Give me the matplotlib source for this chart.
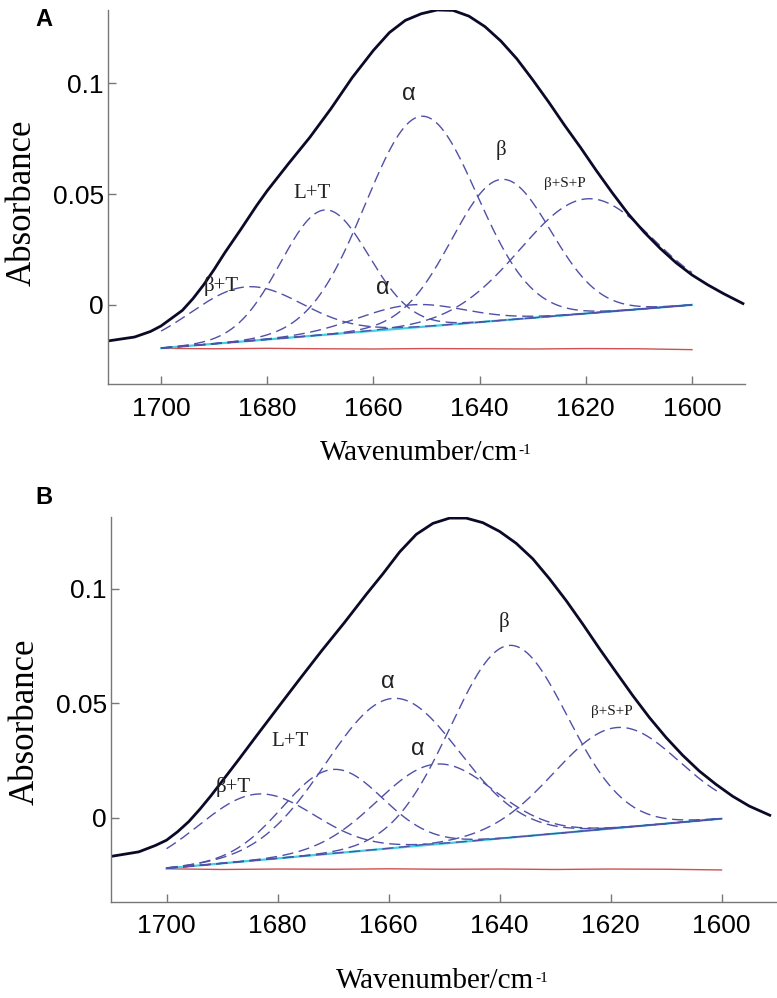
import numpy as np
import matplotlib.pyplot as plt
from matplotlib import transforms

# ---- panel A data ----
a_env_x = [1710.1, 1705, 1702, 1700, 1698, 1696, 1694, 1692, 1690, 1688, 1685, 1682, 1680,
           1676, 1672, 1668, 1664, 1660, 1657, 1654, 1651, 1648, 1645, 1642, 1639, 1636,
           1633, 1630, 1627, 1624, 1621, 1618, 1615, 1612, 1609, 1606, 1603, 1600, 1597,
           1594, 1590.4]
a_env_y = [-0.0163, -0.0145, -0.0120, -0.0095, -0.0060, -0.0025, 0.0028, 0.0090, 0.0160,
           0.0235, 0.0340, 0.0448, 0.0515, 0.0637, 0.0755, 0.0885, 0.1025, 0.1148, 0.1228,
           0.1283, 0.1313, 0.1330, 0.1328, 0.1302, 0.1255, 0.1190, 0.1110, 0.1015, 0.0915,
           0.0810, 0.0710, 0.0605, 0.0505, 0.0410, 0.0328, 0.0255, 0.0190, 0.0135, 0.0090,
           0.0050, 0.0006]
# fitted bands: centre, height above baseline, width (sigma)
a_band_names = ['β+T', 'L+T', 'α', 'α', 'β', 'β+S+P']
a_band_center = [1684.0, 1669.2, 1651.0, 1653.0, 1635.9, 1619.9]
a_band_height = [0.0245, 0.0563, 0.0950, 0.0103, 0.0636, 0.0517]
a_band_sigma = [10.5, 8.3, 10.5, 10.0, 9.3, 12.5]
a_base = [-0.0195, 0.0]          # baseline at 1700 and 1600
a_resid_x = [1700, 1690, 1680, 1670, 1660, 1650, 1640, 1630, 1620, 1610, 1600]
a_resid_y = [-0.0196, -0.0198, -0.0196, -0.0198, -0.0199, -0.0197, -0.0198, -0.0199, -0.0197, -0.0198, -0.0202]
a_label_x = [1688.7, 1671.5, 1653.3, 1658.2, 1635.9, 1624.0]
a_label_y = [0.0086, 0.0504, 0.0953, 0.0078, 0.0697, 0.0549]

# ---- panel B data ----
b_env_x = [1709.8, 1705, 1702, 1700, 1698, 1696, 1694, 1692, 1690, 1687, 1684, 1680, 1676,
           1672, 1668, 1664, 1661, 1658, 1655, 1652, 1649, 1646, 1643, 1640, 1637, 1634,
           1631, 1628, 1625, 1622, 1619, 1616, 1613, 1610, 1607, 1604, 1601, 1598, 1595,
           1591.3]
b_env_y = [-0.0169, -0.0150, -0.0122, -0.0099, -0.0062, -0.0018, 0.0036, 0.0095, 0.0158,
           0.0253, 0.0350, 0.0478, 0.0605, 0.0730, 0.0850, 0.0975, 0.1065, 0.1160, 0.1237,
           0.1285, 0.1308, 0.1308, 0.1288, 0.1250, 0.1198, 0.1130, 0.1043, 0.0948, 0.0845,
           0.0738, 0.0635, 0.0533, 0.0437, 0.0350, 0.0272, 0.0203, 0.0145, 0.0093, 0.0050,
           0.0010]
b_band_names = ['β+T', 'L+T', 'α', 'α', 'β', 'β+S+P']
b_band_center = [1683.8, 1670.1, 1659.3, 1651.5, 1638.3, 1618.9]
b_band_height = [0.0289, 0.0367, 0.0654, 0.0350, 0.0840, 0.0439]
b_band_sigma = [10.4, 9.0, 12.0, 10.5, 10.5, 11.3]
b_base = [-0.0222, -0.0005]
b_resid_x = [1700, 1690, 1680, 1670, 1660, 1650, 1640, 1630, 1620, 1610, 1600]
b_resid_y = [-0.0224, -0.0227, -0.0225, -0.0226, -0.0224, -0.0226, -0.0225, -0.0227, -0.0225, -0.0226, -0.0229]
b_label_x = [1688.0, 1677.8, 1660.2, 1654.8, 1639.2, 1619.8]
b_label_y = [0.0134, 0.0330, 0.0592, 0.0301, 0.0854, 0.0461]

xticks = [1700, 1680, 1660, 1640, 1620, 1600]
yticks = [0, 0.05, 0.1]
yticklabels = ['0', '0.05', '0.1']

band_color = '#5050a8'
sans = ['Liberation Sans', 'DejaVu Sans']
serif = ['Liberation Serif', 'DejaVu Serif']


def draw_panel(ax, env_x, env_y, names, centers, heights, sigmas, base,
               res_x, res_y, lab_x, lab_y, ylim, xlabel_x, xlabel_y):
    wn = np.linspace(1700, 1600, 401)
    baseline = base[0] + (base[1] - base[0]) * (1700 - wn) / 100.0
    ax.plot(res_x, res_y, color='#d05050', lw=1.0)
    ax.plot(wn, baseline, color='#40d0e0', lw=1.6)
    for c, h, s in zip(centers, heights, sigmas):
        ax.plot(wn, baseline + h * np.exp(-(wn - c) ** 2 / (2 * s ** 2)),
                color=band_color, lw=1.0, dashes=(8, 4))
    ax.plot(env_x, env_y, color='#0a0a28', lw=2.0)

    for name, x, y in zip(names, lab_x, lab_y):
        if name == 'α':
            ax.text(x, y, name, fontsize=17, family=sans, ha='center', va='center', color='#222')
        elif name == 'β+S+P':
            ax.text(x, y, name, fontsize=11, family=serif, ha='center', va='center', color='#222')
        else:
            ax.text(x, y, name, fontsize=15, family=serif, ha='center', va='center', color='#222')

    ax.set_xlim(1710, 1590)
    ax.set_ylim(*ylim)
    ax.set_xticks(xticks)
    ax.set_yticks(yticks)
    ax.set_yticklabels(yticklabels)
    for lab in ax.get_xticklabels() + ax.get_yticklabels():
        lab.set_family(sans)
        lab.set_fontsize(19)
    ax.tick_params(direction='in', length=6, width=1, color='#777')
    ax.tick_params(axis='x', pad=9)
    ax.tick_params(axis='y', pad=3)
    for side in ['top', 'right']:
        ax.spines[side].set_visible(False)
    for side in ['left', 'bottom']:
        ax.spines[side].set_color('#777')
        ax.spines[side].set_linewidth(1.0)

    # x label with a small raised "-1"
    ax.text(xlabel_x, xlabel_y, 'Wavenumber/cm', transform=ax.transAxes,
            ha='right', va='baseline', fontsize=21, family=serif)
    sup = transforms.offset_copy(ax.transAxes, fig=ax.figure, x=0.5, y=4.5, units='points')
    ax.text(xlabel_x, xlabel_y, '-1', transform=sup,
            ha='left', va='baseline', fontsize=11, family=serif)


fig = plt.figure(figsize=(7.77, 9.98), dpi=100)
ax_a = fig.add_axes([0.139, 0.6152, 0.8199, 0.3748])
ax_b = fig.add_axes([0.1429, 0.0962, 0.8571, 0.3858])

draw_panel(ax_a, a_env_x, a_env_y, a_band_names, a_band_center, a_band_height, a_band_sigma,
           a_base, a_resid_x, a_resid_y, a_label_x, a_label_y, (-0.0357, 0.133), 0.643, -0.203)
draw_panel(ax_b, b_env_x, b_env_y, b_band_names, b_band_center, b_band_height, b_band_sigma,
           b_base, b_resid_x, b_resid_y, b_label_x, b_label_y, (-0.0369, 0.1313), 0.636, -0.223)

fig.text(22 / 777, 1 - 203 / 998, 'Absorbance', rotation=90, ha='center', va='center',
         fontsize=25, family=serif)
fig.text(25 / 777, 1 - 722 / 998, 'Absorbance', rotation=90, ha='center', va='center',
         fontsize=25, family=serif)
fig.text(44 / 777, 1 - 20 / 998, 'A', ha='center', va='center', fontsize=17,
         fontweight='bold', family=sans)
fig.text(44 / 777, 1 - 497 / 998, 'B', ha='center', va='center', fontsize=17,
         fontweight='bold', family=sans)

fig.savefig('out.png', dpi=100)
